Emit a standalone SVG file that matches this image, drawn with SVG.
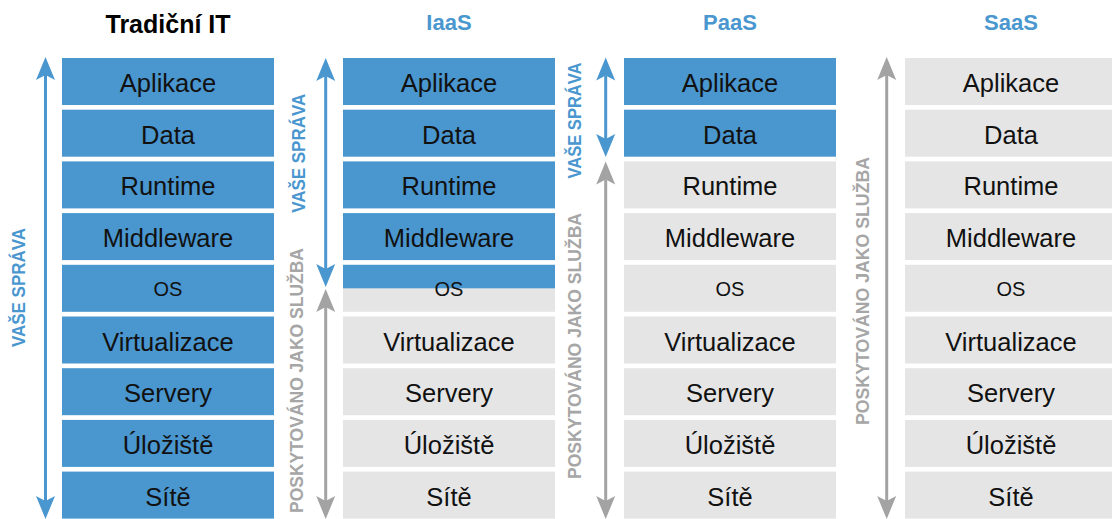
<svg xmlns="http://www.w3.org/2000/svg" width="1112" height="519" viewBox="0 0 1112 519">
<style>
.b{fill:#4a96cf}
.g{fill:#e5e5e5}
.t{font-family:"Liberation Sans",Arial,sans-serif;font-size:25.5px;fill:#111;text-anchor:middle}
.os{font-size:20px}
.h{font-family:"Liberation Sans",Arial,sans-serif;font-weight:bold;text-anchor:middle}
.hk{font-size:25px;fill:#000}
.hb{font-size:22px;fill:#4a97d0}
.v{font-family:"Liberation Sans",Arial,sans-serif;font-weight:bold;font-size:17.6px;text-anchor:middle}
.vb{fill:#4a97d0}
.vg{fill:#a6a6a6}
.ab{stroke:#4a96cf;stroke-width:3;fill:none;marker-start:url(#mb);marker-end:url(#mb)}
.ag{stroke:#a3a3a3;stroke-width:3;fill:none;marker-start:url(#mg);marker-end:url(#mg)}
</style>
<defs>
<marker id="mb" markerUnits="userSpaceOnUse" viewBox="-6 -10 25 20" refX="0" refY="0" markerWidth="25" markerHeight="20" orient="auto-start-reverse"><path d="M18 0 L-5 -9.5 L0 0 L-5 9.5 Z" fill="#4a96cf"/></marker>
<marker id="mg" markerUnits="userSpaceOnUse" viewBox="-6 -10 25 20" refX="0" refY="0" markerWidth="25" markerHeight="20" orient="auto-start-reverse"><path d="M18 0 L-5 -9.5 L0 0 L-5 9.5 Z" fill="#a3a3a3"/></marker>
</defs>
<rect width="1112" height="519" fill="#fff"/>

<g id="headers">
<text class="h hk" x="168" y="33">Tradiční IT</text>
<text class="h hb" x="449" y="29.5">IaaS</text>
<text class="h hb" x="730" y="29.5">PaaS</text>
<text class="h hb" x="1011" y="29.5">SaaS</text>
</g>

<g id="col-trad">
<g id="trad-aplikace"><rect class="b" x="62" y="58" width="212" height="47"/><text class="t" x="168" y="92">Aplikace</text></g>
<g id="trad-data"><rect class="b" x="62" y="109.7" width="212" height="47"/><text class="t" x="168" y="143.7">Data</text></g>
<g id="trad-runtime"><rect class="b" x="62" y="161.4" width="212" height="47"/><text class="t" x="168" y="195.4">Runtime</text></g>
<g id="trad-middleware"><rect class="b" x="62" y="213.1" width="212" height="47"/><text class="t" x="168" y="247.1">Middleware</text></g>
<g id="trad-os"><rect class="b" x="62" y="264.8" width="212" height="47"/><text class="t os" x="168" y="295.5">OS</text></g>
<g id="trad-virtualizace"><rect class="b" x="62" y="316.5" width="212" height="47"/><text class="t" x="168" y="350.5">Virtualizace</text></g>
<g id="trad-servery"><rect class="b" x="62" y="368.2" width="212" height="47"/><text class="t" x="168" y="402.2">Servery</text></g>
<g id="trad-uloziste"><rect class="b" x="62" y="419.9" width="212" height="47"/><text class="t" x="168" y="453.9">Úložiště</text></g>
<g id="trad-site"><rect class="b" x="62" y="471.6" width="212" height="47"/><text class="t" x="168" y="505.6">Sítě</text></g>
</g>

<g id="col-iaas">
<g id="iaas-aplikace"><rect class="b" x="343" y="58" width="212" height="47"/><text class="t" x="449" y="92">Aplikace</text></g>
<g id="iaas-data"><rect class="b" x="343" y="109.7" width="212" height="47"/><text class="t" x="449" y="143.7">Data</text></g>
<g id="iaas-runtime"><rect class="b" x="343" y="161.4" width="212" height="47"/><text class="t" x="449" y="195.4">Runtime</text></g>
<g id="iaas-middleware"><rect class="b" x="343" y="213.1" width="212" height="47"/><text class="t" x="449" y="247.1">Middleware</text></g>
<g id="iaas-os"><rect class="g" x="343" y="264.8" width="212" height="47"/><rect class="b" x="343" y="264.8" width="212" height="23.5"/><text class="t os" x="449" y="295.5">OS</text></g>
<g id="iaas-virtualizace"><rect class="g" x="343" y="316.5" width="212" height="47"/><text class="t" x="449" y="350.5">Virtualizace</text></g>
<g id="iaas-servery"><rect class="g" x="343" y="368.2" width="212" height="47"/><text class="t" x="449" y="402.2">Servery</text></g>
<g id="iaas-uloziste"><rect class="g" x="343" y="419.9" width="212" height="47"/><text class="t" x="449" y="453.9">Úložiště</text></g>
<g id="iaas-site"><rect class="g" x="343" y="471.6" width="212" height="47"/><text class="t" x="449" y="505.6">Sítě</text></g>
</g>

<g id="col-paas">
<g id="paas-aplikace"><rect class="b" x="624" y="58" width="212" height="47"/><text class="t" x="730" y="92">Aplikace</text></g>
<g id="paas-data"><rect class="b" x="624" y="109.7" width="212" height="47"/><text class="t" x="730" y="143.7">Data</text></g>
<g id="paas-runtime"><rect class="g" x="624" y="161.4" width="212" height="47"/><text class="t" x="730" y="195.4">Runtime</text></g>
<g id="paas-middleware"><rect class="g" x="624" y="213.1" width="212" height="47"/><text class="t" x="730" y="247.1">Middleware</text></g>
<g id="paas-os"><rect class="g" x="624" y="264.8" width="212" height="47"/><text class="t os" x="730" y="295.5">OS</text></g>
<g id="paas-virtualizace"><rect class="g" x="624" y="316.5" width="212" height="47"/><text class="t" x="730" y="350.5">Virtualizace</text></g>
<g id="paas-servery"><rect class="g" x="624" y="368.2" width="212" height="47"/><text class="t" x="730" y="402.2">Servery</text></g>
<g id="paas-uloziste"><rect class="g" x="624" y="419.9" width="212" height="47"/><text class="t" x="730" y="453.9">Úložiště</text></g>
<g id="paas-site"><rect class="g" x="624" y="471.6" width="212" height="47"/><text class="t" x="730" y="505.6">Sítě</text></g>
</g>

<g id="col-saas">
<g id="saas-aplikace"><rect class="g" x="905" y="58" width="212" height="47"/><text class="t" x="1011" y="92">Aplikace</text></g>
<g id="saas-data"><rect class="g" x="905" y="109.7" width="212" height="47"/><text class="t" x="1011" y="143.7">Data</text></g>
<g id="saas-runtime"><rect class="g" x="905" y="161.4" width="212" height="47"/><text class="t" x="1011" y="195.4">Runtime</text></g>
<g id="saas-middleware"><rect class="g" x="905" y="213.1" width="212" height="47"/><text class="t" x="1011" y="247.1">Middleware</text></g>
<g id="saas-os"><rect class="g" x="905" y="264.8" width="212" height="47"/><text class="t os" x="1011" y="295.5">OS</text></g>
<g id="saas-virtualizace"><rect class="g" x="905" y="316.5" width="212" height="47"/><text class="t" x="1011" y="350.5">Virtualizace</text></g>
<g id="saas-servery"><rect class="g" x="905" y="368.2" width="212" height="47"/><text class="t" x="1011" y="402.2">Servery</text></g>
<g id="saas-uloziste"><rect class="g" x="905" y="419.9" width="212" height="47"/><text class="t" x="1011" y="453.9">Úložiště</text></g>
<g id="saas-site"><rect class="g" x="905" y="471.6" width="212" height="47"/><text class="t" x="1011" y="505.6">Sítě</text></g>
</g>

<g id="connectors">
<line class="ab" x1="45.5" y1="75" x2="45.5" y2="501"/>
<line class="ab" x1="325.7" y1="76" x2="325.7" y2="269"/>
<line class="ag" x1="325.7" y1="307" x2="325.7" y2="501"/>
<line class="ab" x1="605.7" y1="75.5" x2="605.7" y2="139"/>
<line class="ag" x1="605.7" y1="179.5" x2="605.7" y2="501"/>
<line class="ag" x1="886.7" y1="75" x2="886.7" y2="501"/>
</g>

<g id="labels">
<text class="v vb" transform="translate(25,287.5) rotate(-90)" textLength="119" lengthAdjust="spacingAndGlyphs">VAŠE SPRÁVA</text>
<text class="v vb" transform="translate(305,153.3) rotate(-90)" textLength="119" lengthAdjust="spacingAndGlyphs">VAŠE SPRÁVA</text>
<text class="v vg" transform="translate(303,380.5) rotate(-90)" textLength="265" lengthAdjust="spacingAndGlyphs">POSKYTOVÁNO JAKO SLUŽBA</text>
<text class="v vb" transform="translate(581,120.5) rotate(-90)" textLength="116" lengthAdjust="spacingAndGlyphs">VAŠE SPRÁVA</text>
<text class="v vg" transform="translate(581,346) rotate(-90)" textLength="266" lengthAdjust="spacingAndGlyphs">POSKYTOVÁNO JAKO SLUŽBA</text>
<text class="v vg" transform="translate(869,291) rotate(-90)" textLength="268" lengthAdjust="spacingAndGlyphs">POSKYTOVÁNO JAKO SLUŽBA</text>
</g>
</svg>
